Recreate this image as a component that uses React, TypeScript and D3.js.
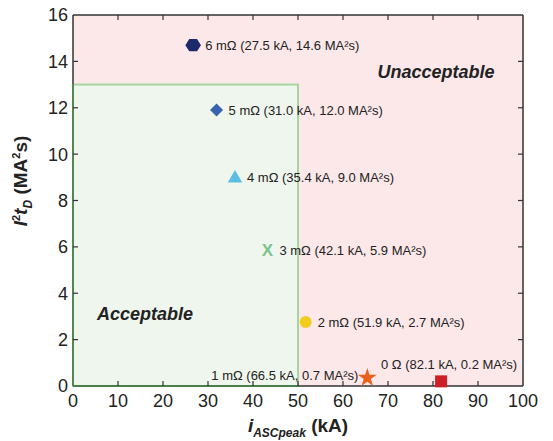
import React from 'react';
import * as d3 from 'd3';

const names = ['0 Ω', '1 mΩ', '2 mΩ', '3 mΩ', '4 mΩ', '5 mΩ', '6 mΩ'];
const peakKA = [82.1, 66.5, 51.9, 42.1, 35.4, 31.0, 27.5];
const i2tMA2s = [0.2, 0.7, 2.7, 5.9, 9.0, 12.0, 14.6];
// positions where markers appear in the picture
const markerX = [81.8, 65.4, 51.7, 43.2, 36.0, 31.9, 26.7];
const markerY = [0.2, 0.35, 2.76, 5.86, 9.0, 11.9, 14.7];
const shapes = ['square', 'star', 'circle', 'x', 'triangle', 'diamond', 'hexagon'];
const colors = ['#cc1f26', '#e8621e', '#f2cd1d', '#7cc48c', '#5bbde4', '#3a62ad', '#1c2a6b'];
const xTicks = [0, 10, 20, 30, 40, 50, 60, 70, 80, 90, 100];
const yTicks = [0, 2, 4, 6, 8, 10, 12, 14, 16];
const acceptX = [0, 50];
const acceptY = [0, 13];

const W = 553, H = 441;
const L = 73, R = 523, T = 15, B = 386;

export default function App() {
  const x = d3.scaleLinear().domain([0, 100]).range([L, R]);
  const y = d3.scaleLinear().domain([0, 16]).range([B, T]);
  const font = 'Liberation Sans, Arial, sans-serif';

  const hexPath = (r: number) => {
    const pts: [number, number][] = d3.range(6).map(i => {
      const a = (Math.PI / 3) * i;
      return [r * Math.cos(a), r * Math.sin(a) * 0.92];
    });
    return (d3.line()(pts) || '') + 'Z';
  };

  const marker = (i: number) => {
    const cx = x(markerX[i]);
    const cy = y(markerY[i]);
    const c = colors[i];
    const s = shapes[i];
    let el: React.ReactNode = null;
    if (s === 'hexagon') el = <path d={hexPath(7.8)} fill={c} />;
    else if (s === 'square') el = <path d={d3.symbol(d3.symbolSquare, 144)() || ''} fill={c} />;
    else if (s === 'star') el = <path d={d3.symbol(d3.symbolStar, 110)() || ''} fill={c} />;
    else if (s === 'circle') el = <path d={d3.symbol(d3.symbolCircle, 113)() || ''} fill={c} />;
    else if (s === 'triangle') el = <path d={d3.symbol(d3.symbolTriangle, 90)() || ''} fill={c} transform="translate(0,1)" />;
    else if (s === 'diamond') el = <path d={d3.symbol(d3.symbolSquare, 85)() || ''} fill={c} transform="rotate(45)" />;
    else if (s === 'x') el = <text x={0} y={0} dy="0.36em" textAnchor="middle" fontFamily={font} fontSize={17} fontWeight="bold" fill={c}>X</text>;
    return <g key={i} transform={`translate(${cx},${cy})`}>{el}</g>;
  };

  const label = (i: number) => {
    const cx = x(markerX[i]);
    const cy = y(markerY[i]);
    const txt = `${names[i]} (${peakKA[i].toFixed(1)} kA, ${i2tMA2s[i].toFixed(1)} MA²s)`;
    if (i === 0) {
      return <text key={'l' + i} x={cx + 8} y={cy - 12} textAnchor="middle" fontFamily={font} fontSize={13} fill="#222">{txt}</text>;
    }
    if (i === 1) {
      return <text key={'l' + i} x={cx - 9} y={cy + 2} textAnchor="end" fontFamily={font} fontSize={13} fill="#222">{txt}</text>;
    }
    return <text key={'l' + i} x={cx + 12} y={cy} dy="0.35em" textAnchor="start" fontFamily={font} fontSize={13} fill="#222">{txt}</text>;
  };

  return (
    <svg width={W} height={H} style={{ position: 'absolute', left: 0, top: 0, background: '#fff' }}>
      <rect x={L} y={T} width={R - L} height={B - T} fill="#fce8e9" />
      <rect x={x(acceptX[0])} y={y(acceptY[1])} width={x(acceptX[1]) - x(acceptX[0])} height={y(acceptY[0]) - y(acceptY[1])}
        fill="#eff6ee" stroke="#a6d6a0" strokeWidth={2} />
      {/* frame */}
      <line x1={L} x2={R} y1={T} y2={T} stroke="#333" strokeWidth={1.5} />
      <line x1={R} x2={R} y1={T} y2={B} stroke="#333" strokeWidth={1.5} />
      <line x1={L} x2={L} y1={T} y2={y(acceptY[1])} stroke="#333" strokeWidth={1.5} />
      <line x1={L} x2={L} y1={y(acceptY[1])} y2={B} stroke="#4a7f4a" strokeWidth={1.8} />
      <line x1={L} x2={x(acceptX[1])} y1={B} y2={B} stroke="#4a7f4a" strokeWidth={1.8} />
      <line x1={x(acceptX[1])} x2={R} y1={B} y2={B} stroke="#333" strokeWidth={1.5} />
      {/* ticks */}
      {xTicks.slice(1, -1).map(t => (
        <g key={'xt' + t}>
          <line x1={x(t)} x2={x(t)} y1={B} y2={B - 5} stroke="#333" strokeWidth={1.2} />
          <line x1={x(t)} x2={x(t)} y1={T} y2={T + 5} stroke="#333" strokeWidth={1.2} />
        </g>
      ))}
      {yTicks.slice(1, -1).map(t => (
        <g key={'yt' + t}>
          <line x1={L} x2={L + 5} y1={y(t)} y2={y(t)} stroke="#333" strokeWidth={1.2} />
          <line x1={R} x2={R - 5} y1={y(t)} y2={y(t)} stroke="#333" strokeWidth={1.2} />
        </g>
      ))}
      {xTicks.map(t => (
        <text key={'xl' + t} x={x(t)} y={B + 21} textAnchor="middle" fontFamily={font} fontSize={18} fill="#222">{t}</text>
      ))}
      {yTicks.map(t => (
        <text key={'yl' + t} x={L - 5} y={y(t)} dy="0.36em" textAnchor="end" fontFamily={font} fontSize={18} fill="#222">{t}</text>
      ))}
      {/* region labels */}
      <text x={436} y={78} textAnchor="middle" fontFamily={font} fontSize={18} fontWeight="bold" fontStyle="italic" fill="#222">Unacceptable</text>
      <text x={145} y={320} textAnchor="middle" fontFamily={font} fontSize={18} fontWeight="bold" fontStyle="italic" fill="#222">Acceptable</text>
      {/* markers and labels */}
      {names.map((_, i) => marker(i))}
      {names.map((_, i) => label(i))}
      {/* axis titles */}
      <text x={(L + R) / 2} y={432} textAnchor="middle" fontFamily={font} fontSize={19} fontWeight="bold" fill="#222">
        <tspan fontStyle="italic">i</tspan>
        <tspan fontStyle="italic" fontSize={12} dy={5}>ASCpeak</tspan>
        <tspan dy={-5}> (kA)</tspan>
      </text>
      <text transform={`translate(27,181) rotate(-90)`} textAnchor="middle" fontFamily={font} fontSize={19} fontWeight="bold" fill="#222">
        <tspan fontStyle="italic">I</tspan>
        <tspan fontSize={11} dy={-7}>2</tspan>
        <tspan fontStyle="italic" dy={7}>t</tspan>
        <tspan fontStyle="italic" fontSize={12} dy={5}>D</tspan>
        <tspan dy={-5}> (MA</tspan>
        <tspan fontSize={11} dy={-7}>2</tspan>
        <tspan dy={7}>s)</tspan>
      </text>
    </svg>
  );
}
